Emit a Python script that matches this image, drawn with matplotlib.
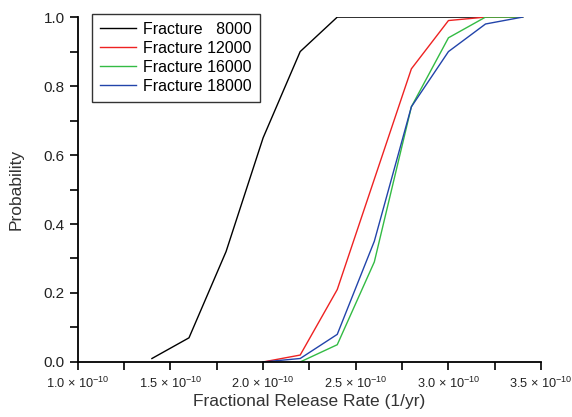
import numpy as np
import matplotlib
matplotlib.use("Agg")
import matplotlib.pyplot as plt
from matplotlib.ticker import MultipleLocator, FuncFormatter

plt.rcParams['font.family'] = ['Liberation Sans', 'DejaVu Sans']
plt.rcParams['mathtext.fontset'] = 'custom'
plt.rcParams['mathtext.rm'] = 'Liberation Sans'
plt.rcParams['mathtext.it'] = 'Liberation Sans'

# release rate in units of 1e-10 (1/yr)
rate = [1.4, 1.6, 1.8, 2.0, 2.2, 2.4, 2.6, 2.8, 3.0, 3.2, 3.4]
p_8000 = [0.01, 0.07, 0.32, 0.65, 0.90, 1.0, 1.0, 1.0, 1.0, 1.0, 1.0]
rate_b = [2.0, 2.2, 2.4, 2.6, 2.8, 3.0, 3.2, 3.4]
p_12000 = [0.0, 0.02, 0.21, 0.53, 0.85, 0.99, 1.0, 1.0]
p_18000 = [0.0, 0.01, 0.08, 0.35, 0.74, 0.90, 0.98, 1.0]
rate_c = [2.2, 2.4, 2.6, 2.8, 3.0, 3.2, 3.4]
p_16000 = [0.0, 0.05, 0.29, 0.74, 0.94, 1.0, 1.0]

fig = plt.figure(figsize=(5.72, 4.17), dpi=100)
ax = fig.add_axes([0.136, 0.132, 0.81, 0.827])

ax.plot(rate, p_8000, color='black', lw=1.0, label='Fracture   8000')
ax.plot(rate_b, p_12000, color='#ee2222', lw=1.0, label='Fracture 12000')
ax.plot(rate_c, p_16000, color='#33bb44', lw=1.0, label='Fracture 16000')
ax.plot(rate_b, p_18000, color='#2244aa', lw=1.0, label='Fracture 18000')

ax.set_xlim(1.0, 3.5)
ax.set_ylim(0, 1.0)
ax.spines['top'].set_visible(False)
ax.spines['right'].set_visible(False)
for s in ['left', 'bottom']:
    ax.spines[s].set_linewidth(1.3)

ax.xaxis.set_major_locator(MultipleLocator(0.5))
ax.xaxis.set_minor_locator(MultipleLocator(0.25))
ax.yaxis.set_major_locator(MultipleLocator(0.2))
ax.yaxis.set_minor_locator(MultipleLocator(0.1))
ax.xaxis.set_major_formatter(FuncFormatter(lambda v, p: r'%.1f $\times$ 10$^{-10}$' % v))
ax.yaxis.set_major_formatter(FuncFormatter(lambda v, p: '%.1f' % v))
ax.tick_params(which='both', direction='out', width=1.2, labelsize=9.2, labelcolor='#222222')
ax.tick_params(axis='y', labelsize=11)
ax.tick_params(which='major', length=6)
ax.tick_params(which='minor', length=6)
ax.tick_params(axis='x', pad=4)

ax.set_xlabel('Fractional Release Rate (1/yr)', fontsize=12.5, color='#333333', labelpad=2)
ax.set_ylabel('Probability', fontsize=12.5, color='#333333', labelpad=14)

leg = ax.legend(loc='upper left', bbox_to_anchor=(0.03, 1.009), borderaxespad=0,
                fontsize=11.5, frameon=True, fancybox=False, handlelength=2.3,
                borderpad=0.5, labelspacing=0.25, handletextpad=0.4)
leg.get_frame().set_edgecolor('black')
leg.get_frame().set_linewidth(1.0)

plt.savefig('out.png', dpi=100)
